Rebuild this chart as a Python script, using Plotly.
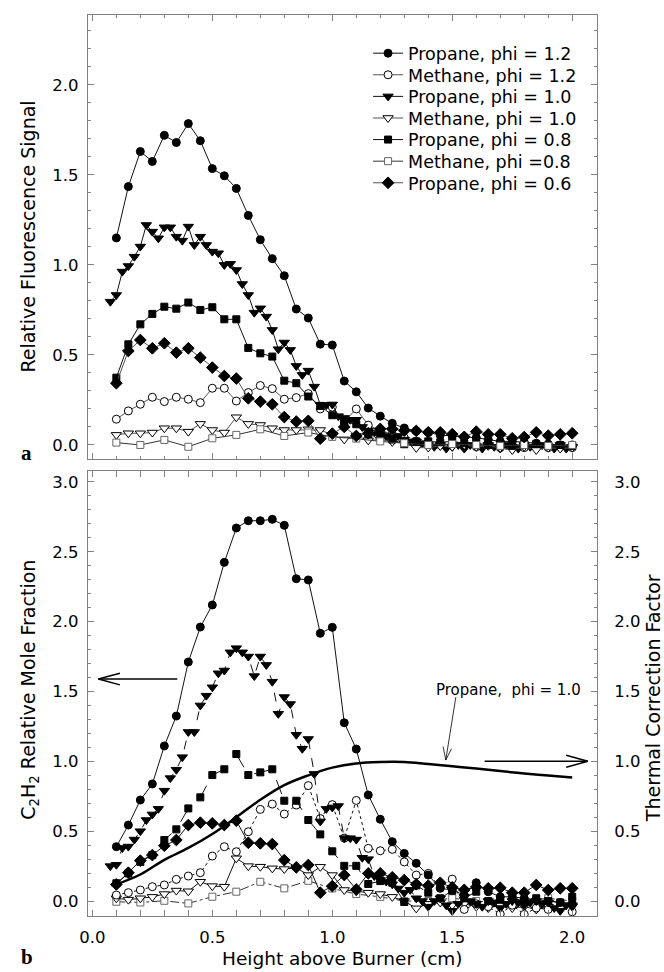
import plotly.graph_objects as go

# ---------------- DATA ----------------
# Panel a: relative fluorescence signal
x05 = [round(0.1 + 0.05 * i, 3) for i in range(39)]          # 0.10 ... 2.00
x025 = [round(0.075 + 0.025 * i, 3) for i in range(78)]      # 0.075 ... 2.00
x10 = [round(0.1 + 0.1 * i, 2) for i in range(20)]           # 0.1 ... 2.0

a_propane_12 = [1.15, 1.435, 1.63, 1.575, 1.72, 1.68, 1.785, 1.69, 1.535, 1.495, 1.425, 1.275,
                1.14, 1.035, 0.94, 0.755, 0.705, 0.56, 0.555, 0.355, 0.295, 0.205, 0.16, 0.12,
                0.094, 0.078, 0.07, 0.055, 0.05, 0.045, 0.04, 0.03, 0.02, 0.02, 0.015, 0.01,
                0.005, 0.0, 0.0]
a_methane_12 = [0.143, 0.189, 0.226, 0.265, 0.241, 0.265, 0.254, 0.235, 0.315, 0.315, 0.244, 0.291,
                0.33, 0.313, 0.254, 0.263, 0.285, 0.2, 0.21, 0.13, 0.2, 0.11, 0.08, 0.06, 0.04,
                0.02, 0.01, 0.0, 0.0, -0.01, -0.01, 0.0, -0.015, -0.01, -0.015, -0.01, -0.015,
                -0.01, -0.015]
a_propane_10 = [0.796, 0.833, 0.963, 0.994, 1.046, 1.102, 1.222, 1.185, 1.148, 1.209, 1.209, 1.157,
                1.135, 1.213, 1.111, 1.157, 1.111, 1.074, 1.065, 1.0, 1.006, 0.972, 0.894, 0.833,
                0.735, 0.759, 0.713, 0.639, 0.532, 0.569, 0.528, 0.439, 0.389, 0.413, 0.324, 0.222,
                0.222, 0.225, 0.16, 0.15, 0.14, 0.14, 0.1, 0.08, 0.07, 0.06, 0.05, 0.04, 0.05, 0.03,
                0.02, 0.02, 0.01, 0.0, -0.01, 0.0, -0.02, -0.01, 0.0, -0.02, 0.0, -0.01, -0.02, 0.0,
                -0.01, -0.02, 0.0, -0.01, -0.02, 0.0, -0.01, -0.02, 0.0, -0.01, -0.02, 0.0, -0.02,
                -0.01]
a_methane_10 = [0.056, 0.065, 0.065, 0.069, 0.093, 0.093, 0.074, 0.117, 0.083, 0.069, 0.154, 0.117,
                0.111, 0.093, 0.083, 0.083, 0.087, 0.083, 0.056, 0.031, 0.05, 0.026, 0.03, 0.017,
                0.01, -0.016, -0.014, -0.006, -0.01, 0.0, -0.01, -0.005, -0.016, -0.028, -0.01,
                -0.028, -0.015, -0.02, -0.015]
a_propane_08 = [0.374, 0.559, 0.67, 0.728, 0.768, 0.757, 0.791, 0.75, 0.765, 0.698, 0.698, 0.539,
                0.509, 0.491, 0.357, 0.343, 0.269, 0.217, 0.165, 0.13, 0.115, 0.06, 0.05, 0.03,
                0.004, 0.02, 0.02, 0.015, 0.02, 0.01, 0.01, 0.0, 0.005, -0.005, 0.0, 0.005, -0.005,
                0.0, -0.005]
a_methane_08 = [0.013, 0.0, 0.028, -0.01, 0.037, 0.056, 0.087, 0.05, 0.069, 0.045, 0.035, 0.02,
                0.01, 0.0, 0.005, 0.0, -0.005, 0.0, -0.005, 0.0]
a_propane_06 = [0.343, 0.522, 0.583, 0.537, 0.565, 0.513, 0.537, 0.485, 0.43, 0.383, 0.369, 0.259,
                0.241, 0.226, 0.155, 0.13, 0.134, 0.035, 0.063, 0.1, 0.05, 0.065, 0.089, 0.089,
                0.08, 0.078, 0.07, 0.07, 0.06, 0.045, 0.074, 0.059, 0.059, 0.037, 0.044, 0.07,
                0.052, 0.059, 0.065]

# Panel b: C2H2 relative mole fraction
b_propane_12 = [0.389, 0.544, 0.723, 0.838, 1.11, 1.324, 1.711, 1.961, 2.119, 2.424, 2.67, 2.722,
                2.722, 2.732, 2.689, 2.307, 2.298, 1.916, 1.959, 1.276, 1.088, 0.759, 0.585, 0.425,
                0.341, 0.27, 0.186, 0.091, 0.079, 0.043, 0.131, 0.067, 0.031, 0.03, 0.02, 0.01,
                0.0, -0.01, -0.02]
b_methane_12 = [0.043, 0.06, 0.079, 0.103, 0.115, 0.155, 0.179, 0.203, 0.322, 0.389, 0.353, 0.496,
                0.656, 0.694, 0.623, 0.687, 0.826, 0.59, 0.69, 0.45, 0.72, 0.377, 0.36, 0.37, 0.28,
                0.186, 0.198, 0.1, 0.157, -0.06, -0.02, -0.04, -0.093, -0.03, -0.095, -0.05, -0.06,
                -0.04, -0.077]
b_propane_10 = [0.25, 0.26, 0.38, 0.39, 0.44, 0.50, 0.58, 0.62, 0.66, 0.79, 0.88, 0.94, 1.03, 1.21,
                1.21, 1.40, 1.47, 1.53, 1.63, 1.65, 1.78, 1.81, 1.78, 1.75, 1.61, 1.75, 1.69, 1.57,
                1.34, 1.46, 1.41, 1.19, 1.09, 1.16, 0.91, 0.57, 0.66, 0.67, 0.68, 0.45, 0.45, 0.44,
                0.31, 0.30, 0.18, 0.15, 0.14, 0.12, 0.09, 0.06, 0.08, 0.02, 0.0, -0.04, 0.0, 0.02,
                -0.03, -0.07, -0.02, 0.03, 0.0, -0.02, -0.04, 0.0, -0.01, -0.05, -0.02, 0.0, -0.01,
                -0.03, -0.01, 0.0, -0.02, -0.01, -0.05, -0.07, -0.03, -0.04]
b_methane_10 = [0.02, 0.01, 0.02, 0.03, 0.05, 0.075, 0.07, 0.138, 0.107, 0.103, 0.306, 0.25, 0.246,
                0.234, 0.229, 0.238, 0.186, 0.245, 0.186, 0.079, 0.07, 0.06, 0.05, 0.03, 0.0,
                -0.052, -0.02, -0.01, -0.03, -0.02, -0.04, -0.05, -0.03, -0.05, -0.04, -0.06, -0.04,
                -0.064, -0.03]
b_propane_08 = [0.127, 0.198, 0.28, 0.329, 0.437, 0.513, 0.663, 0.742, 0.902, 0.943, 1.052, 0.902,
                0.921, 0.943, 0.718, 0.718, 0.58, 0.477, 0.356, 0.252, 0.252, 0.122, 0.143, 0.131,
                -0.007, 0.112, 0.06, 0.02, 0.074, 0.02, 0.067, 0.0, 0.01, 0.02, 0.0, 0.02, 0.0,
                -0.01, 0.03]
b_methane_08 = [-0.005, -0.01, 0.002, -0.017, 0.031, 0.067, 0.138, 0.091, 0.145, 0.09, 0.05, 0.03,
                0.0, 0.0, 0.02, 0.0, -0.01, 0.0, 0.02, 0.0]
b_propane_06 = [0.119, 0.203, 0.289, 0.329, 0.396, 0.437, 0.544, 0.561, 0.556, 0.544, 0.575, 0.417,
                0.413, 0.408, 0.293, 0.241, 0.258, 0.06, 0.107, 0.186, 0.083, 0.198, 0.198, 0.17,
                0.15, 0.12, 0.11, 0.131, 0.098, 0.08, 0.1, 0.091, 0.095, 0.06, 0.06, 0.115, 0.079,
                0.091, 0.091]

# Thermal correction factor (Propane, phi = 1.0), right axis
x_thermal = [0.08, 0.1, 0.2, 0.3, 0.4, 0.5, 0.6, 0.7, 0.8, 0.9, 1.0, 1.1, 1.2, 1.3, 1.4, 1.5,
             1.6, 1.7, 1.8, 1.9, 2.0]
thermal = [0.11, 0.12, 0.19, 0.295, 0.38, 0.48, 0.60, 0.725, 0.83, 0.90, 0.955, 0.985, 0.995,
           0.995, 0.98, 0.965, 0.948, 0.93, 0.913, 0.898, 0.885]

# ---------------- LAYOUT HELPERS ----------------
W, H = 664, 972
FONT = "DejaVu Sans"
AX = "#808080"


def fx(p):
    return p / W


def fy(p):
    return 1 - p / H


LEFT, RIGHT = 80, 596
TOP_A, BOT_A = 14.7, 459
TOP_B, BOT_B = 470.7, 916
XR = [-0.0185, 2.103]
YRA = [-0.078, 2.39]
YRB = [-0.107, 3.08]

fig = go.Figure()


def add(x, y, name, symbol, filled, size, xa, ya, dash="solid", lcol="#111111",
        mcol="#000000", legend=None):
    fig.add_trace(go.Scatter(
        x=x, y=y, name=name, mode="lines+markers", xaxis=xa, yaxis=ya,
        showlegend=legend is not None, legend=legend or "legend",
        line=dict(color=lcol, width=1, dash=dash),
        marker=dict(symbol=symbol, size=size,
                    color=mcol if filled else "white",
                    line=dict(color=mcol, width=1)),
    ))


# Panel a (each entry gets its own legend box so the rows can be spaced like the original)
add(x05, a_propane_12, "Propane, phi = 1.2", "circle", True, 8, "x", "y", legend="legend")
add(x05, a_methane_12, "Methane, phi = 1.2", "circle", False, 8, "x", "y", lcol="#555555",
    legend="legend2")
add(x025, a_propane_10, "Propane, phi = 1.0", "triangle-down", True, 9, "x", "y", legend="legend3")
add(x05, a_methane_10, "Methane, phi = 1.0", "triangle-down", False, 9, "x", "y", lcol="#555555",
    legend="legend4")
add(x05, a_propane_08, "Propane, phi = 0.8", "square", True, 7, "x", "y", legend="legend5")
add(x10, a_methane_08, "Methane, phi =0.8", "square", False, 7, "x", "y", lcol="#333333",
    mcol="#666666", legend="legend6")
add(x05, a_propane_06, "Propane, phi = 0.6", "diamond", True, 9, "x", "y", lcol="#555555",
    legend="legend7")

# Panel b
add(x_thermal, thermal, "Thermal correction", "circle", True, 1, "x2", "y3")
fig.data[-1].update(mode="lines", line=dict(color="black", width=2.5, shape="spline"))
add(x10, b_methane_08, "Methane, phi =0.8", "square", False, 7, "x2", "y2", dash="dashdot",
    lcol="#333333", mcol="#666666")
add(x05, b_methane_10, "Methane, phi = 1.0", "triangle-down", False, 9, "x2", "y2")
add(x05, b_methane_12, "Methane, phi = 1.2", "circle", False, 8, "x2", "y2", dash="dot")
add(x05, b_propane_06, "Propane, phi = 0.6", "diamond", True, 9, "x2", "y2")
add(x05, b_propane_08, "Propane, phi = 0.8", "square", True, 7, "x2", "y2", dash="longdash")
add(x025, b_propane_10, "Propane, phi = 1.0", "triangle-down", True, 9, "x2", "y2", dash="dash")
add(x05, b_propane_12, "Propane, phi = 1.2", "circle", True, 8, "x2", "y2")

tickfont = dict(family=FONT, size=16.5, color="black")
common = dict(showline=True, linecolor=AX, linewidth=1, ticks="inside", tickcolor=AX,
              ticklen=6, showgrid=False, zeroline=False, tickfont=tickfont,
              minor=dict(ticks="inside", ticklen=3, tickcolor=AX, dtick=0.1, showgrid=False))

legends = {}
for i in range(7):
    key = "legend" if i == 0 else "legend%d" % (i + 1)
    legends[key] = dict(x=fx(364), y=fy(53.3 + 21.6 * i), xanchor="left", yanchor="middle",
                        font=dict(family=FONT, size=17.5, color="black"),
                        bgcolor="rgba(0,0,0,0)", itemwidth=30)

fig.update_layout(
    width=W, height=H, margin=dict(l=0, r=0, t=0, b=0),
    paper_bgcolor="white", plot_bgcolor="white",
    font=dict(family=FONT, color="black"),
    xaxis=dict(domain=[fx(LEFT), fx(RIGHT)], anchor="y", range=XR, dtick=0.5, tick0=0,
               showticklabels=False, mirror="allticks", **common),
    yaxis=dict(domain=[fy(BOT_A), fy(TOP_A)], anchor="x", range=YRA, dtick=0.5, tick0=0,
               tickformat=".1f", mirror="allticks", ticklabelstandoff=5, **common),
    xaxis2=dict(domain=[fx(LEFT), fx(RIGHT)], anchor="y2", range=XR, dtick=0.5, tick0=0,
                tickformat=".1f", mirror="allticks", ticklabelstandoff=6, **common),
    yaxis2=dict(domain=[fy(BOT_B), fy(TOP_B)], anchor="x2", range=YRB, dtick=0.5, tick0=0,
                tickformat=".1f", mirror=True, ticklabelstandoff=5, **common),
    yaxis3=dict(overlaying="y2", anchor="x2", side="right", range=YRB, dtick=0.5, tick0=0,
                tickformat=".1f", ticklabelstandoff=13, **common),
    **legends,
)

ann = [
    dict(text="Relative Fluorescence Signal", x=fx(19), y=fy((TOP_A + BOT_A) / 2), textangle=-90,
         font=dict(size=19)),
    dict(text="C<sub>2</sub>H<sub>2</sub> Relative Mole Fraction", x=fx(20), y=fy(690),
         textangle=-90, font=dict(size=19)),
    dict(text="Thermal Correction Factor", x=fx(653), y=fy(698), textangle=-90,
         font=dict(size=19)),
    dict(text="Height above Burner (cm)", x=fx(338), y=fy(958), font=dict(size=18.5)),
    dict(text="<b>a</b>", x=fx(18), y=fy(453), font=dict(family="Liberation Serif", size=21)),
    dict(text="<b>b</b>", x=fx(18), y=fy(957), font=dict(family="Liberation Serif", size=21)),
]
for a in ann:
    a.update(xref="paper", yref="paper", showarrow=False, xanchor="center", yanchor="middle")
    a["font"] = dict(family=a["font"].get("family", FONT), size=a["font"]["size"], color="black")
    fig.add_annotation(**a)

fig.add_annotation(text="Propane,  phi = 1.0", x=1.735, y=1.51, xref="x2", yref="y2",
                   showarrow=False, font=dict(family=FONT, size=15, color="black"))


# Arrows (open heads) drawn as line shapes
def seg(x0, y0, x1, y1, yref="y2", w=1.5):
    fig.add_shape(type="line", x0=x0, y0=y0, x1=x1, y1=y1, xref="x2", yref=yref,
                  line=dict(color="black", width=w))


# left arrow -> left axis
seg(0.025, 1.589, 0.354, 1.589)
seg(0.025, 1.589, 0.115, 1.631)
seg(0.025, 1.589, 0.115, 1.547)
# right arrow -> right axis
seg(1.635, 1.0, 2.065, 1.0, yref="y3")
seg(2.065, 1.0, 1.975, 1.043, yref="y3")
seg(2.065, 1.0, 1.975, 0.957, yref="y3")
# pointer from label to curve
seg(1.515, 1.46, 1.473, 1.009, w=0.8)
seg(1.473, 1.009, 1.462, 1.105, w=0.8)
seg(1.473, 1.009, 1.497, 1.09, w=0.8)

fig.write_html("out.html")
